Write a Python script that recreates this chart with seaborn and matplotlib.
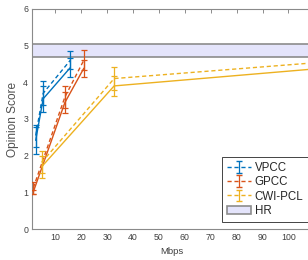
import numpy as np
import pandas as pd
import matplotlib
matplotlib.use("Agg")
import matplotlib.pyplot as plt
from matplotlib.patches import Patch
import seaborn as sns

# ---- data ----
series_names = ["VPCC", "GPCC", "CWI-PCL"]
vpcc_x = [2.4, 5.3, 15.8]
vpcc_solid = [2.42, 3.55, 4.4]
vpcc_solid_err = [0.36, 0.35, 0.27]
vpcc_dash = [2.55, 3.7, 4.6]
vpcc_dash_err = [0.3, 0.33, 0.25]

gpcc_x = [1.5, 13.7, 21.0]
gpcc_solid = [1.02, 3.45, 4.38]
gpcc_solid_err = [0.06, 0.28, 0.23]
gpcc_dash = [1.13, 3.6, 4.6]
gpcc_dash_err = [0.17, 0.3, 0.28]

cwi_x = [4.7, 32.7, 150.0]
cwi_solid = [1.7, 3.9, 4.6]
cwi_solid_err = [0.3, 0.28, 0.3]
cwi_dash = [1.82, 4.1, 4.75]
cwi_dash_err = [0.3, 0.32, 0.3]

hr_low, hr_high = 4.68, 5.03
x_ticks = [10, 20, 30, 40, 50, 60, 70, 80, 90, 100]
y_ticks = [0, 1, 2, 3, 4, 5, 6]
colors = ["#0072BD", "#D95319", "#EDB120"]

sns.set_style("white")
plt.rcParams["font.family"] = ["Liberation Sans", "DejaVu Sans"]

fig = plt.figure(figsize=(3.08, 2.6), dpi=100)
W, H = 308, 260
left_px, right_px, top_px, bot_px = 32.3, 312.0, 8.7, 229.3
ax = fig.add_axes([left_px / W, 1 - bot_px / H, (right_px - left_px) / W, (bot_px - top_px) / H])

# HR band
ax.axhspan(hr_low, hr_high, facecolor="#e4e4fb", edgecolor="#8c8c8c", lw=1.2, zorder=1)

groups = [
    (vpcc_x, vpcc_solid, vpcc_solid_err, vpcc_dash, vpcc_dash_err),
    (gpcc_x, gpcc_solid, gpcc_solid_err, gpcc_dash, gpcc_dash_err),
    (cwi_x, cwi_solid, cwi_solid_err, cwi_dash, cwi_dash_err),
]
dash = (0, (3, 2))
for (xs, ys, es, yd, ed), c in zip(groups, colors):
    df_s = pd.DataFrame({"x": xs, "y": ys})
    df_d = pd.DataFrame({"x": xs, "y": yd})
    sns.lineplot(data=df_s, x="x", y="y", ax=ax, color=c, lw=1.0, sort=False,
                 estimator=None, legend=False, zorder=3)
    sns.lineplot(data=df_d, x="x", y="y", ax=ax, color=c, lw=1.0, sort=False,
                 estimator=None, legend=False, zorder=3, linestyle=dash)
    ax.errorbar(xs, ys, yerr=es, fmt="none", ecolor=c, elinewidth=0.9, capsize=2.3,
                capthick=0.9, zorder=4)
    ax.errorbar(xs, yd, yerr=ed, fmt="none", ecolor=c, elinewidth=0.9, capsize=2.3,
                capthick=0.9, zorder=4)

# legend proxies
handles = []
for name, c in zip(series_names, colors):
    h = ax.errorbar([np.nan], [np.nan], yerr=[1], color=c, ls=dash, lw=1.0,
                    elinewidth=0.9, capsize=2.3, label=name)
    handles.append(h)
handles.append(Patch(facecolor="#e4e4fb", edgecolor="#8c8c8c", lw=1.2, label="HR"))

ax.set_xlim(1.1, 109.1)
ax.set_ylim(0, 6)
ax.set_xticks(x_ticks)
ax.set_yticks(y_ticks)
ax.tick_params(direction="in", length=3, width=0.6, colors="#7a7a7a", labelcolor="#404040",
               labelsize=6.3, top=True, right=True, pad=3)
for s in ax.spines.values():
    s.set_color("#8a8a8a")
    s.set_linewidth(0.8)
ax.set_xlabel("Mbps", fontsize=6.8, color="#404040", labelpad=3)
ax.set_ylabel("Opinion Score", fontsize=8.6, color="#505050", labelpad=3)

axw = right_px - left_px
axh = bot_px - top_px
leg = ax.legend(handles=handles, loc="lower left",
                bbox_to_anchor=((222 - left_px) / axw, (bot_px - 222) / axh), borderaxespad=0,
                fontsize=8.3, frameon=True, fancybox=False, framealpha=1,
                edgecolor="#262626", handlelength=2.1, handletextpad=0.3,
                labelspacing=0.2, borderpad=0.45)
leg.get_frame().set_linewidth(0.6)

fig.savefig("out.png", dpi=100)
